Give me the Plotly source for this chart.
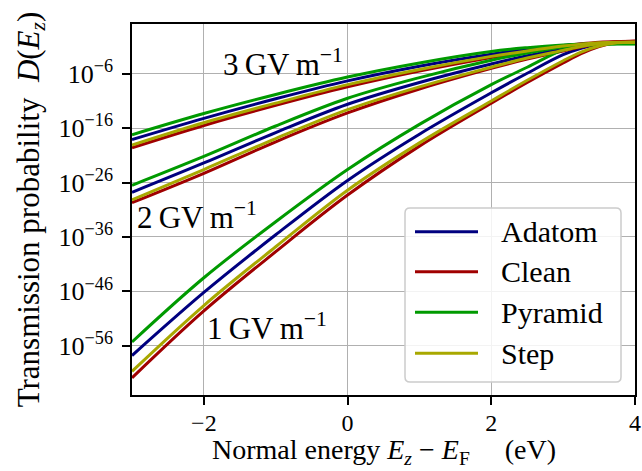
import plotly.graph_objects as go

# Normal energy E_z - E_F (eV) at which the transmission was sampled
energy = [-3, -2, -1, 0, 1, 2, 2.5, 3, 3.25, 3.5, 3.75, 4]

# log10 of the transmission probability D(E_z) for each surface and field
# 1 GV/m
adatom_1 = [-57.8, -46.2, -35.6, -25.6, -17.1, -9.5, -5.9, -2.5, -1.3, -0.6, -0.35, -0.3]
clean_1 = [-61.9, -49.6, -38.7, -28.3, -19.3, -11.4, -7.6, -4.0, -2.3, -1.0, -0.2, 0.0]
pyramid_1 = [-55.3, -43.5, -33.2, -23.6, -15.3, -8.0, -4.8, -1.6, -0.9, -0.55, -0.5, -0.5]
step_1 = [-60.7, -48.6, -37.8, -27.4, -18.7, -11.0, -7.2, -3.6, -2.0, -0.9, -0.3, -0.2]
# 2 GV/m
adatom_2 = [-27.8, -22.4, -16.8, -11.6, -7.6, -4.2, -2.7, -1.4, -0.9, -0.5, -0.35, -0.3]
clean_2 = [-29.7, -24.3, -18.5, -13.2, -8.8, -5.0, -3.3, -1.8, -1.1, -0.5, -0.1, 0.0]
pyramid_2 = [-26.5, -21.2, -15.6, -10.5, -6.7, -3.5, -2.2, -1.1, -0.75, -0.55, -0.5, -0.5]
step_2 = [-29.2, -23.6, -17.9, -12.6, -8.4, -4.8, -3.1, -1.7, -1.0, -0.5, -0.25, -0.2]
# 3 GV/m
adatom_3 = [-18.1, -14.2, -10.6, -7.3, -4.6, -2.4, -1.5, -0.8, -0.55, -0.4, -0.3, -0.3]
clean_3 = [-19.6, -15.5, -11.8, -8.4, -5.5, -3.0, -1.9, -0.9, -0.5, -0.2, -0.05, 0.0]
pyramid_3 = [-17.2, -13.3, -9.8, -6.6, -4.0, -1.9, -1.2, -0.7, -0.55, -0.5, -0.5, -0.5]
step_3 = [-19.1, -15.0, -11.4, -8.0, -5.2, -2.8, -1.8, -0.9, -0.55, -0.3, -0.2, -0.2]

surfaces = ["Adatom", "Clean", "Pyramid", "Step"]
colors = ["#00007f", "#a00000", "#009a00", "#a8a800"]
series = {
    "Adatom": [adatom_1, adatom_2, adatom_3],
    "Clean": [clean_1, clean_2, clean_3],
    "Pyramid": [pyramid_1, pyramid_2, pyramid_3],
    "Step": [step_1, step_2, step_3],
}

# field labels: text, x position (eV), log10 y position
field_labels = ["1\u2009GV\u2009m<sup>\u22121</sup>", "2\u2009GV\u2009m<sup>\u22121</sup>",
                "3\u2009GV\u2009m<sup>\u22121</sup>"]
field_label_x = [-1.12, -2.1, -0.9]
field_label_y = [-52.5, -32.1, -4.0]

ytick_exp = [-6, -16, -26, -36, -46, -56]
xtick_vals = [-2, 0, 2, 4]

FONT = "Liberation Serif"

# figure geometry (px)
W, H = 642, 471
ML, MR, MT, MB = 132, 7, 24, 76
PW, PH = W - ML - MR, H - MT - MB


def px_to_paper(px, py):
    return (px - ML) / PW, (H - MB - py) / PH


fig = go.Figure()
for name, color in zip(surfaces, colors):
    for k, logd in enumerate(series[name]):
        fig.add_trace(go.Scatter(
            x=energy, y=[10 ** v for v in logd], mode="lines",
            line=dict(color=color, width=3, shape="spline", smoothing=1.0),
            name=name, legendgroup=name, showlegend=False,
        ))

for text, lx, ly in zip(field_labels, field_label_x, field_label_y):
    fig.add_annotation(x=lx, y=ly, text=text, showarrow=False,
                       font=dict(family=FONT, size=31, color="black"))

# legend box with rounded corners, drawn in paper coordinates
bx0, by0 = px_to_paper(405, 382)
bx1, by1 = px_to_paper(621, 208)
rx, ry = 5 / PW, 5 / PH
box_path = (f"M{bx0 + rx},{by0} L{bx1 - rx},{by0} Q{bx1},{by0} {bx1},{by0 + ry} "
            f"L{bx1},{by1 - ry} Q{bx1},{by1} {bx1 - rx},{by1} "
            f"L{bx0 + rx},{by1} Q{bx0},{by1} {bx0},{by1 - ry} "
            f"L{bx0},{by0 + ry} Q{bx0},{by0} {bx0 + rx},{by0} Z")
fig.add_shape(type="path", path=box_path, xref="paper", yref="paper",
              fillcolor="rgba(255,255,255,0.85)", line=dict(color="#cccccc", width=1.5),
              layer="above")
row_y = [231.7, 271.7, 312.3, 353.3]
for name, color, ry_px in zip(surfaces, colors, row_y):
    lx0, ly = px_to_paper(415, ry_px)
    lx1, _ = px_to_paper(478, ry_px)
    fig.add_shape(type="line", xref="paper", yref="paper", x0=lx0, x1=lx1, y0=ly, y1=ly,
                  line=dict(color=color, width=3), layer="above")
    tx, _ = px_to_paper(499, ry_px)
    fig.add_annotation(xref="paper", yref="paper", x=tx, y=ly, xanchor="left",
                       yanchor="middle", text=name, showarrow=False,
                       font=dict(family=FONT, size=30, color="black"))

# x-axis title
_, xt_y = px_to_paper(0, 451)
fig.add_annotation(xref="paper", yref="paper", x=0.5, y=xt_y, xanchor="center",
                   yanchor="middle", showarrow=False,
                   text="Normal energy <i>E<sub>z</sub></i> \u2212 <i>E</i><sub>F</sub>\u2003 (eV)",
                   font=dict(family=FONT, size=28, color="black"))

fig.update_xaxes(
    range=[-3, 4], tickmode="array", tickvals=xtick_vals,
    ticktext=[str(v).replace("-", "\u2212") for v in xtick_vals],
    showgrid=True, gridcolor="#b0b0b0", gridwidth=1.3,
    showline=True, linecolor="black", linewidth=1.6, mirror=True,
    ticks="outside", ticklen=8, tickwidth=1.5, tickcolor="black",
    ticklabelstandoff=-3, ticklabeloverflow="allow",
    tickfont=dict(family=FONT, size=24, color="black"), zeroline=False,
    automargin=False,
)
fig.update_yaxes(
    type="log", range=[-65.05, 3.15], tickmode="array",
    tickvals=[10 ** e for e in ytick_exp],
    ticktext=["10<sup>\u2212%d</sup>" % (-e) for e in ytick_exp],
    showgrid=True, gridcolor="#b0b0b0", gridwidth=1.3,
    showline=True, linecolor="black", linewidth=1.6, mirror=True,
    ticks="outside", ticklen=8, tickwidth=1.5, tickcolor="black",
    ticklabelstandoff=4,
    tickfont=dict(family=FONT, size=26, color="black"), zeroline=False,
    automargin=False,
    title=dict(text="Transmission probability  <i>D</i>(<i>E<sub>z</sub></i>)",
               font=dict(family=FONT, size=31, color="black"), standoff=10),
)

fig.update_layout(
    width=W, height=H,
    margin=dict(l=ML, r=MR, t=MT, b=MB),
    plot_bgcolor="white", paper_bgcolor="white",
    showlegend=False,
)

fig.write_html("out.html")
